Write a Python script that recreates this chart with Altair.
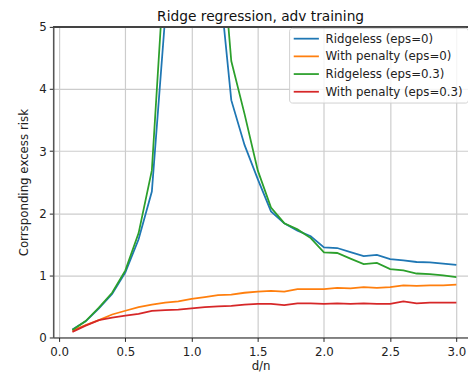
import altair as alt
import pandas as pd

x_vals = [0.1, 0.2, 0.3, 0.4, 0.5, 0.6, 0.7, 0.8, 0.9, 1.0,
          1.1, 1.2, 1.3, 1.4, 1.5, 1.6, 1.7, 1.8, 1.9, 2.0,
          2.1, 2.2, 2.3, 2.4, 2.5, 2.6, 2.7, 2.8, 2.9, 3.0]

ridgeless_eps0 = [0.13, 0.26, 0.47, 0.70, 1.05, 1.58, 2.35, 5.14, 9.0, 15.0,
                  10.0, 5.96, 3.82, 3.10, 2.55, 2.03, 1.84, 1.72, 1.63, 1.45,
                  1.44, 1.375, 1.31, 1.33, 1.26, 1.24, 1.215, 1.21, 1.19, 1.17]
penalty_eps0 = [0.11, 0.20, 0.28, 0.37, 0.43, 0.49, 0.53, 0.56, 0.58, 0.62,
                0.65, 0.68, 0.69, 0.72, 0.74, 0.75, 0.74, 0.78, 0.78, 0.78,
                0.80, 0.79, 0.81, 0.80, 0.81, 0.84, 0.83, 0.84, 0.84, 0.85]
ridgeless_eps03 = [0.12, 0.265, 0.48, 0.72, 1.08, 1.68, 2.69, 6.14, 12.0, 20.0,
                   12.0, 7.0, 4.45, 3.60, 2.69, 2.09, 1.84, 1.74, 1.60, 1.37,
                   1.36, 1.27, 1.18, 1.20, 1.10, 1.08, 1.03, 1.02, 1.00, 0.97]
penalty_eps03 = [0.09, 0.19, 0.28, 0.32, 0.35, 0.38, 0.43, 0.44, 0.45, 0.47,
                 0.49, 0.50, 0.51, 0.53, 0.54, 0.54, 0.52, 0.55, 0.55, 0.54,
                 0.55, 0.54, 0.55, 0.54, 0.54, 0.58, 0.55, 0.56, 0.56, 0.56]

series_names = ["Ridgeless (eps=0)", "With penalty (eps=0)",
                "Ridgeless (eps=0.3)", "With penalty (eps=0.3)"]
series_colors = ["#1f77b4", "#ff7f0e", "#2ca02c", "#d62728"]
x_ticks = [0.0, 0.5, 1.0, 1.5, 2.0, 2.5, 3.0]
y_ticks = [0, 1, 2, 3, 4, 5]

rows = []
for order, (name, vals) in enumerate(zip(series_names, [ridgeless_eps0, penalty_eps0,
                                                        ridgeless_eps03, penalty_eps03])):
    for xv, yv in zip(x_vals, vals):
        rows.append({"x": xv, "y": yv, "series": name, "order": order})
df = pd.DataFrame(rows)

W, H = 422, 316
FONT = "DejaVu Sans"

axis_common = dict(
    grid=True, gridColor="#cccccc", gridWidth=1.2,
    tickColor="#222222", tickSize=4, tickWidth=1,
    labelFont=FONT, labelFontSize=12, labelColor="#222222",
    titleFont=FONT, titleFontSize=12, titleFontWeight="normal", titleColor="#222222",
    labelFlush=False, labelOverlap=False,
)

lines = alt.Chart(df).mark_line(clip=True, strokeWidth=1.8).encode(
    x=alt.X("x:Q",
            scale=alt.Scale(domain=[-0.045, 3.088], nice=False, zero=False),
            axis=alt.Axis(values=x_ticks, format=".1f", title="d/n",
                          domainColor="#222222", domainWidth=1,
                          labelPadding=5.5, titlePadding=3,
                          **axis_common)),
    y=alt.Y("y:Q",
            scale=alt.Scale(domain=[0, 5], nice=False, zero=False),
            axis=alt.Axis(values=y_ticks, format="d", title="Corrsponding excess risk",
                          domainColor="#555555", domainWidth=1.6,
                          labelPadding=3, titlePadding=9,
                          **axis_common)),
    color=alt.Color("series:N",
                    scale=alt.Scale(domain=series_names, range=series_colors),
                    legend=alt.Legend(
                        title=None, orient="none", legendX=240, legendY=1,
                        symbolType="M-1.26,0H3.86", symbolSize=100, symbolStrokeWidth=1.8,
                        padding=5, rowPadding=6, labelOffset=20,
                        labelFont=FONT, labelFontSize=12, labelColor="#222222",
                        fillColor="rgba(255,255,255,0.8)", strokeColor="#d0d0d0",
                        cornerRadius=3)),
    order=alt.Order("x:Q"),
    detail="order:O",
)

top_spine = alt.Chart(df).mark_rule(color="#444444", strokeWidth=1).encode(
    x=alt.value(0), x2=alt.value(W), y=alt.value(0)
)

chart = alt.layer(lines, top_spine).properties(
    width=W, height=H,
    title=alt.TitleParams("Ridge regression, adv training", fontSize=14, font=FONT,
                          fontWeight="normal", color="#111111", anchor="middle", offset=-3),
    padding={"left": 46, "top": 16, "right": 0, "bottom": 37},
    autosize=alt.AutoSizeParams(type="none"),
).configure_view(stroke=None)

chart.save("out.html", embed_options={"renderer": "svg", "actions": False})
